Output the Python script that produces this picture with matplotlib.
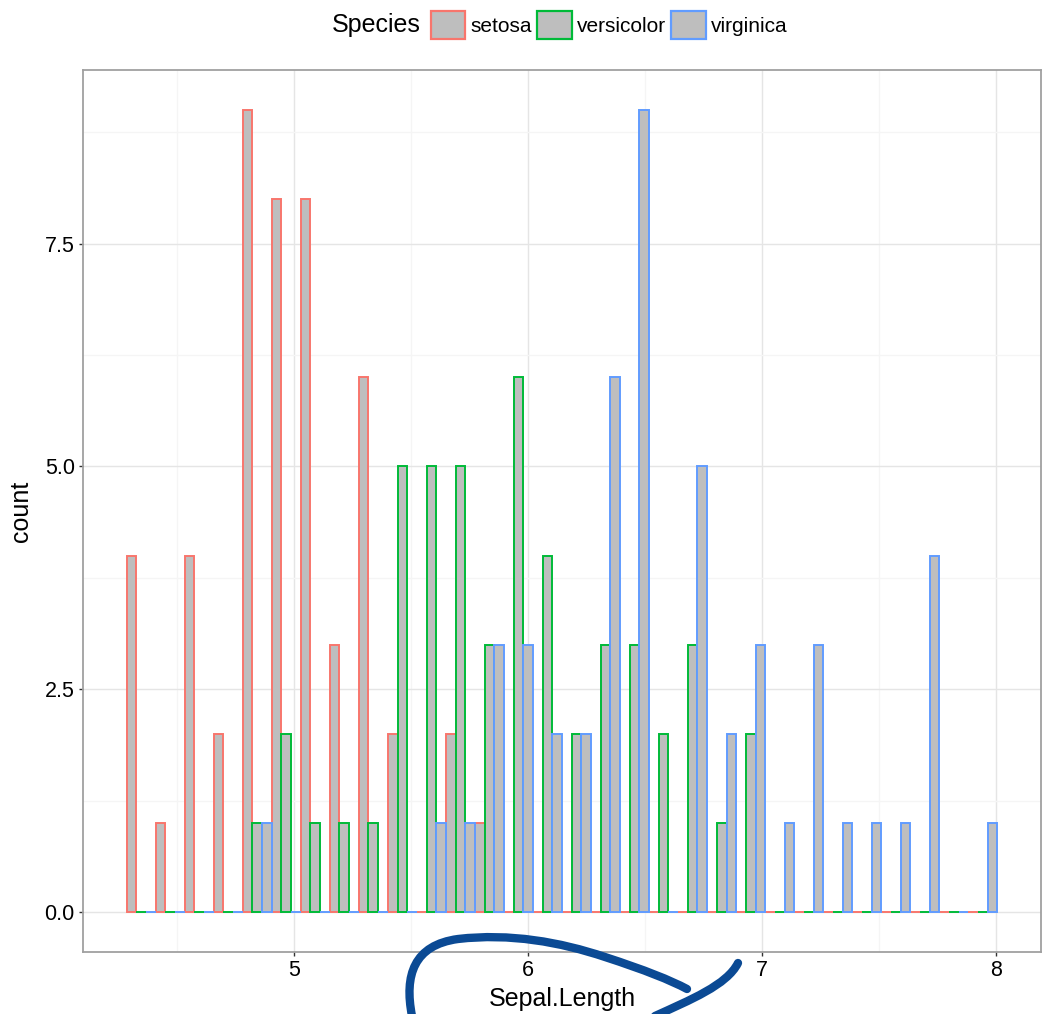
import matplotlib
matplotlib.use("Agg")
import matplotlib.pyplot as plt
from matplotlib.patches import Patch, PathPatch
from matplotlib.path import Path

plt.rcParams["font.family"] = ["Liberation Sans", "DejaVu Sans"]

# histogram of iris Sepal.Length, 30 bins, dodged by species
species = ["setosa", "versicolor", "virginica"]
colors = ["#F8766D", "#00BA38", "#619CFF"]
setosa = [4, 1, 4, 2, 9, 8, 8, 3, 6, 2, 0, 2, 1, 0, 0,
          0, 0, 0, 0, 0, 0, 0, 0, 0, 0, 0, 0, 0, 0, 0]
versicolor = [0, 0, 0, 0, 1, 2, 1, 1, 1, 5, 5, 5, 3, 6, 4,
              2, 3, 3, 2, 3, 1, 2, 0, 0, 0, 0, 0, 0, 0, 0]
virginica = [0, 0, 0, 0, 1, 0, 0, 0, 0, 0, 1, 1, 3, 3, 2,
             2, 6, 9, 0, 5, 2, 3, 1, 3, 1, 1, 1, 4, 0, 1]
counts = [setosa, versicolor, virginica]

x_min, x_max, n_bins = 4.3, 7.9, 30
width = (x_max - x_min) / (n_bins - 1)
boundary = width / 2
start = int((x_min - boundary) // width) * width + boundary

fig = plt.figure(figsize=(10.43, 10.14), dpi=100)
ax = fig.add_axes([0.0796, 0.0611, 0.9185, 0.8699])

for k, (name, col, vals) in enumerate(zip(species, colors, counts)):
    lefts = [start + i * width + k * width / 3 for i in range(n_bins)]
    ax.bar(lefts, vals, width=width / 3, align="edge", facecolor="#BEBEBE",
           edgecolor=col, linewidth=1.4, zorder=3 + k)

span = n_bins * width
ax.set_xlim(start - 0.05 * span, start + span + 0.05 * span)
ax.set_ylim(-0.45, 9.45)
ax.set_xticks([5, 6, 7, 8])
ax.set_xticklabels(["5", "6", "7", "8"])
ax.set_yticks([0, 2.5, 5, 7.5])
ax.set_yticklabels(["0.0", "2.5", "5.0", "7.5"])
ax.set_xticks([4.5, 5.5, 6.5, 7.5], minor=True)
ax.set_yticks([1.25, 3.75, 6.25, 8.75], minor=True)
ax.grid(which="major", color="#E5E5E5", linewidth=1.0, zorder=0)
ax.grid(which="minor", color="#F5F5F5", linewidth=1.0, zorder=0)
ax.set_axisbelow(True)
ax.tick_params(which="major", length=3, width=1, color="#333333",
               labelsize=15.5, labelcolor="black", pad=3)
ax.tick_params(which="minor", length=0)
for sp in ax.spines.values():
    sp.set_color("#A0A0A0")
    sp.set_linewidth(1.3)

ax.set_xlabel("Sepal.Length", fontsize=18, labelpad=4)
ax.set_ylabel("count", fontsize=18, labelpad=8)

# legend on top
fig.text(421 / 1043, 1 - 25 / 1014, "Species", fontsize=18,
         ha="right", va="center")
handles = [Patch(facecolor="#BEBEBE", edgecolor=c, linewidth=1.6) for c in colors]
fig.legend(handles, species, loc="center left",
           bbox_to_anchor=(431 / 1043, 1 - 25 / 1014), ncol=3, frameon=False,
           fontsize=15, handlelength=1.65, handleheight=1.65,
           handletextpad=0.25, columnspacing=0.25, borderpad=0,
           borderaxespad=0)

# hand-drawn annotation around the x label
W, H = 1043, 1014
def fx(x, y):
    return (x / W, 1 - y / H)

swirl = Path(
    [fx(412, 1016), fx(404, 975), fx(414, 945), fx(458, 939),
     fx(510, 933), fx(560, 942), fx(605, 957),
     fx(645, 970), fx(670, 980), fx(687, 989)],
    [Path.MOVETO, Path.CURVE4, Path.CURVE4, Path.CURVE4,
     Path.CURVE4, Path.CURVE4, Path.CURVE4,
     Path.CURVE4, Path.CURVE4, Path.CURVE4])
tail = Path(
    [fx(655, 1016), fx(690, 1000), fx(727, 985), fx(738, 963)],
    [Path.MOVETO, Path.CURVE4, Path.CURVE4, Path.CURVE4])
for p in (swirl, tail):
    fig.add_artist(PathPatch(p, transform=fig.transFigure, facecolor="none",
                             edgecolor="#0B4A94", linewidth=6,
                             capstyle="round", joinstyle="round"))

fig.savefig("out.png", dpi=100)
